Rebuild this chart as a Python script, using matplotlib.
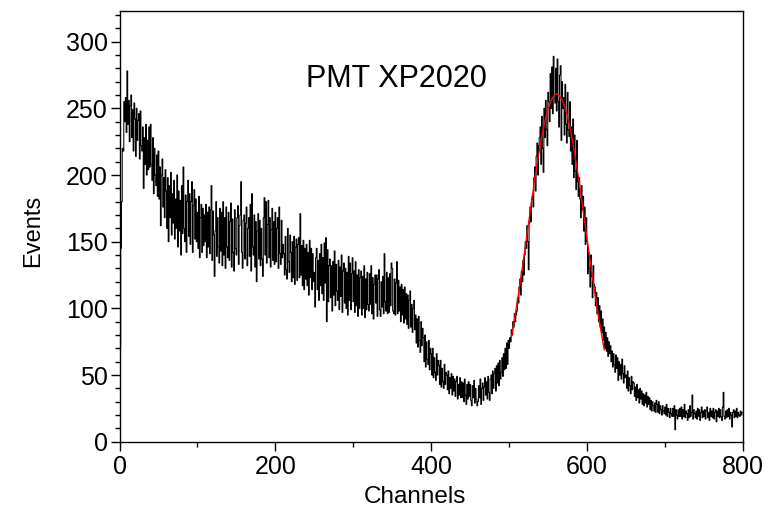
import matplotlib
matplotlib.use("Agg")
import matplotlib.pyplot as plt
from matplotlib.ticker import MultipleLocator

plt.rcParams['font.family'] = ['Liberation Sans', 'DejaVu Sans']

# Spectrum counts per channel (channels 0..799)
counts = [
    30, 70, 145, 180, 220, 218, 255, 240, 258, 232,
    278, 238, 256, 225, 252, 260, 228, 249, 218, 254,
    242, 214, 250, 226, 241, 246, 212, 248, 222, 218,
    236, 190, 228, 208, 238, 200, 226, 204, 236, 206,
    238, 208, 196, 228, 186, 220, 200, 192, 215, 184,
    218, 182, 206, 162, 200, 212, 176, 198, 168, 204,
    188, 160, 198, 150, 192, 168, 202, 155, 186, 164,
    196, 152, 182, 160, 200, 146, 188, 158, 181, 140,
    192, 156, 206, 160, 150, 185, 142, 180, 196, 154,
    186, 148, 180, 195, 142, 177, 189, 152, 182, 150,
    172, 145, 184, 138, 168, 178, 142, 175, 147, 170,
    150, 178, 138, 172, 146, 176, 141, 174, 192, 136,
    173, 155, 124, 158, 180, 139, 168, 146, 134, 175,
    143, 172, 132, 180, 140, 168, 130, 176, 146, 138,
    172, 136, 165, 179, 131, 167, 142, 128, 174, 145,
    140, 168, 177, 133, 162, 170, 195, 142, 130, 166,
    170, 137, 164, 176, 132, 160, 168, 139, 178, 128,
    186, 146, 140, 170, 131, 165, 120, 158, 171, 137,
    166, 132, 160, 137, 124, 168, 183, 140, 180, 134,
    163, 181, 138, 168, 131, 159, 175, 136, 165, 133,
    172, 135, 160, 168, 130, 176, 141, 133, 166, 138,
    148, 141, 125, 154, 129, 122, 160, 135, 127, 155,
    142, 120, 150, 123, 154, 118, 146, 152, 121, 148,
    153, 123, 171, 125, 147, 117, 151, 114, 145, 122,
    148, 117, 142, 110, 151, 123, 145, 114, 141, 120,
    127, 101, 138, 145, 114, 136, 106, 141, 117, 148,
    111, 138, 106, 149, 119, 153, 90, 144, 105, 132,
    137, 108, 132, 98, 135, 110, 143, 102, 133, 113,
    106, 136, 99, 131, 109, 140, 97, 128, 134, 104,
    130, 100, 127, 95, 139, 106, 134, 99, 126, 138,
    105, 128, 97, 135, 102, 125, 94, 129, 100, 123,
    128, 95, 124, 100, 132, 93, 122, 99, 127, 103,
    98, 126, 103, 132, 96, 123, 92, 118, 125, 104,
    125, 94, 122, 129, 99, 94, 120, 101, 124, 96,
    141, 105, 98, 127, 96, 123, 97, 126, 102, 134,
    130, 98, 96, 122, 95, 119, 135, 96, 121, 98,
    116, 90, 118, 95, 114, 89, 116, 92, 111, 88,
    110, 85, 106, 113, 86, 103, 82, 100, 106, 84,
    95, 74, 92, 71, 94, 76, 67, 90, 72, 85,
    78, 60, 80, 56, 75, 62, 58, 76, 54, 70,
    66, 50, 70, 48, 63, 52, 46, 66, 50, 61,
    57, 43, 61, 41, 55, 45, 40, 58, 43, 52,
    50, 39, 53, 36, 48, 40, 51, 35, 49, 38,
    47, 34, 45, 49, 32, 43, 35, 48, 33, 45,
    33, 44, 30, 47, 35, 28, 43, 32, 45, 34,
    43, 31, 27, 42, 33, 46, 29, 40, 32, 27,
    30, 42, 33, 47, 28, 40, 44, 31, 41, 48,
    35, 45, 32, 49, 37, 31, 47, 50, 36, 53,
    40, 51, 55, 38, 57, 44, 59, 42, 61, 47,
    52, 63, 49, 66, 54, 70, 55, 74, 58, 76,
    70, 78, 75, 84, 80, 90, 86, 96, 90, 95,
    98, 108, 104, 116, 122, 110, 128, 120, 136, 125,
    140, 150, 145, 162, 150, 129, 164, 176, 165, 182,
    184, 176, 198, 206, 188, 214, 224, 200, 222, 228,
    236, 208, 244, 220, 202, 250, 228, 256, 234, 222,
    262, 255, 240, 276, 250, 281, 246, 289, 260, 254,
    280, 248, 287, 255, 236, 275, 282, 226, 270, 250,
    258, 230, 268, 238, 224, 262, 234, 229, 255, 218,
    236, 208, 242, 198, 230, 203, 189, 226, 195, 184,
    198, 182, 168, 192, 174, 184, 158, 176, 148, 168,
    150, 126, 142, 130, 116, 140, 124, 108, 132, 118,
    116, 102, 112, 96, 108, 90, 102, 86, 98, 82,
    92, 76, 86, 70, 82, 68, 78, 64, 75, 66,
    72, 60, 68, 56, 66, 58, 52, 65, 55, 63,
    46, 60, 50, 58, 47, 62, 51, 44, 57, 48,
    50, 40, 53, 38, 48, 42, 36, 49, 39, 45,
    44, 34, 41, 31, 43, 33, 39, 29, 40, 32,
    38, 28, 36, 27, 35, 29, 37, 26, 34, 28,
    33, 24, 31, 23, 30, 27, 23, 29, 22, 31,
    28, 22, 30, 21, 27, 24, 20, 27, 23, 21,
    26, 20, 28, 19, 25, 22, 18, 25, 21, 19,
    25, 19, 27, 9, 24, 20, 17, 24, 19, 25,
    19, 26, 17, 24, 19, 28, 18, 23, 21, 16,
    24, 18, 27, 19, 22, 35, 17, 24, 21, 18,
    23, 17, 25, 19, 24, 16, 22, 26, 18, 23,
    19, 24, 17, 23, 26, 18, 22, 16, 25, 19,
    23, 18, 25, 17, 22, 24, 15, 23, 19, 25,
    18, 24, 19, 16, 26, 37, 19, 17, 23, 18,
    24, 19, 25, 17, 22, 20, 11, 22, 24, 18,
    23, 19, 25, 18, 22, 20, 19, 23, 20, 22,
]
channels = list(range(len(counts)))

# Red fit curve
fit_channels = [503, 508, 513, 518, 523, 528, 533, 538, 543, 548, 553, 558,
                561, 564, 569, 574, 579, 584, 589, 594, 599, 604, 609, 614,
                619, 622]
fit_counts = [79, 96, 115, 135, 156, 177, 198, 216, 233, 246, 255, 260,
              261, 260, 255, 246, 233, 216, 198, 177, 156, 135, 115, 96,
              79, 69]

title_text = "PMT XP2020"
x_label = "Channels"
y_label = "Events"

fig = plt.figure(figsize=(7.81, 5.22), dpi=100)
ax = fig.add_axes([119.5 / 781, 1 - 441.7 / 522, 623.5 / 781, 430.7 / 522])

ax.step(channels, counts, where='mid', color='black', lw=0.75)
ax.plot(fit_channels, fit_counts, color='red', lw=1.0)

ax.set_xlim(0, 800)
ax.set_ylim(0, 323)
ax.xaxis.set_major_locator(MultipleLocator(200))
ax.xaxis.set_minor_locator(MultipleLocator(100))
ax.yaxis.set_major_locator(MultipleLocator(50))
ax.yaxis.set_minor_locator(MultipleLocator(10))
ax.tick_params(which='major', direction='out', length=6.5, width=1.0,
               labelsize=18, top=False, right=False)
ax.tick_params(which='minor', direction='out', length=3.6, width=1.0,
               top=False, right=False)
ax.tick_params(axis='y', which='major', pad=2)
ax.tick_params(axis='x', which='major', pad=3)
for s in ax.spines.values():
    s.set_linewidth(1.0)

ax.set_xlabel(x_label, fontsize=17.5)
ax.set_ylabel(y_label, fontsize=17)
ax.xaxis.set_label_coords(0.474, -0.103)
ax.yaxis.set_label_coords(-0.121, 0.49)

ax.text(0.4435, 0.842, title_text, transform=ax.transAxes, fontsize=22,
        ha='center', va='center')

fig.savefig("out.png", dpi=100)
